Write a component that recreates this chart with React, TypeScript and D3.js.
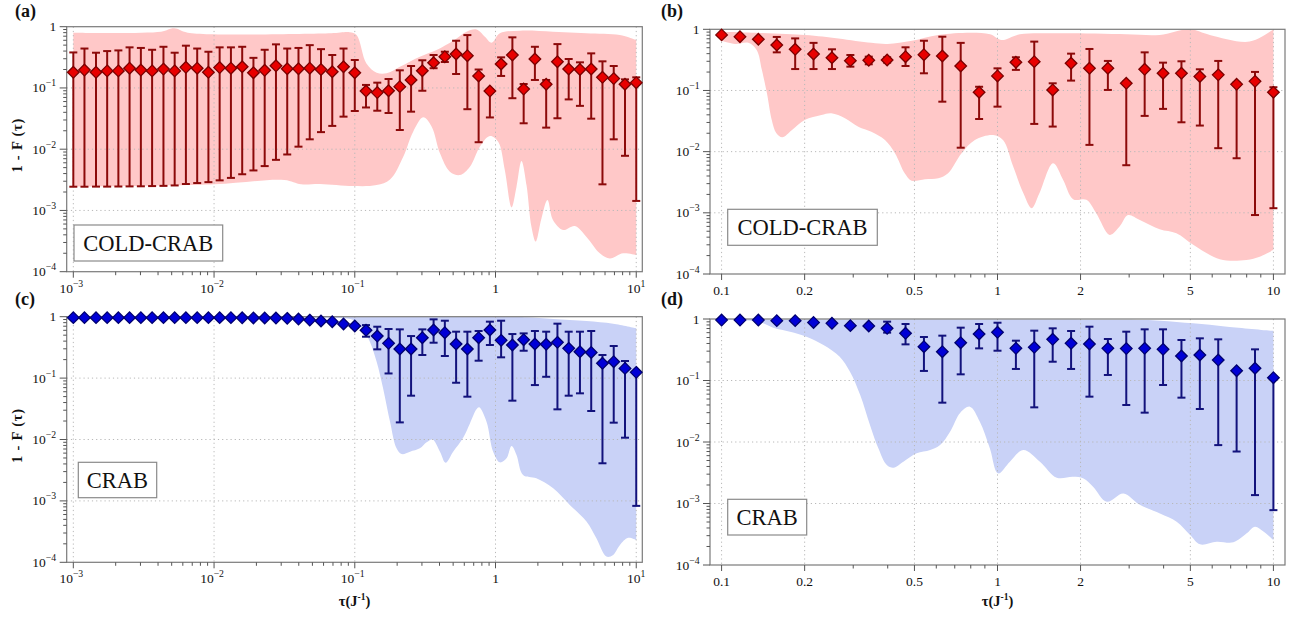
import React from 'react';
import * as d3 from 'd3';

type Pt = [number, number];

// tau grid (J^-1) for the wide panels (a), (c)
const tauWide = [
  0.001, 0.0012, 0.00145, 0.00174, 0.00209, 0.00251, 0.00302, 0.00363, 0.00437, 0.00525,
  0.00631, 0.00759, 0.00912, 0.01096, 0.01318, 0.01585, 0.01905, 0.0229, 0.02754, 0.03311,
  0.03981, 0.04786, 0.05754, 0.06918, 0.08318, 0.1, 0.1202, 0.1445, 0.1738, 0.2089,
  0.2512, 0.302, 0.3631, 0.4365, 0.5248, 0.631, 0.7586, 0.912, 1.096, 1.318,
  1.585, 1.905, 2.291, 2.754, 3.311, 3.981, 4.786, 5.754, 6.918, 8.318, 10,
];

// tau grid for the zoomed panels (b), (d)
const tauNarrow = [
  0.1, 0.1166, 0.1359, 0.1585, 0.1848, 0.2154, 0.2512, 0.2929, 0.3415, 0.3981,
  0.4642, 0.5412, 0.631, 0.7356, 0.8577, 1, 1.166, 1.359, 1.585, 1.848,
  2.154, 2.512, 2.929, 3.415, 3.981, 4.642, 5.412, 6.31, 7.356, 8.577, 10,
];

// (a) COLD-CRAB
const aVal = [
  0.18, 0.196, 0.18, 0.19, 0.19, 0.21, 0.196, 0.19, 0.203, 0.19,
  0.217, 0.21, 0.18, 0.215, 0.21, 0.222, 0.177, 0.194, 0.23, 0.206,
  0.206, 0.21, 0.2, 0.184, 0.222, 0.177, 0.089, 0.084, 0.09, 0.105,
  0.135, 0.191, 0.258, 0.324, 0.358, 0.336, 0.157, 0.089, 0.246, 0.345,
  0.096, 0.297, 0.115, 0.268, 0.204, 0.2, 0.204, 0.149, 0.142, 0.115, 0.122,
];
const aHi = [
  0.38, 0.44, 0.376, 0.4, 0.41, 0.46, 0.45, 0.42, 0.47, 0.376,
  0.49, 0.44, 0.39, 0.46, 0.46, 0.47, 0.31, 0.42, 0.515, 0.44,
  0.45, 0.5, 0.43, 0.345, 0.44, 0.286, 0.112, 0.122, 0.14, 0.194,
  0.228, 0.283, 0.345, 0.39, 0.59, 0.73, 0.2, 0.095, 0.316, 0.67,
  0.116, 0.47, 0.135, 0.52, 0.297, 0.262, 0.367, 0.272, 0.228, 0.138, 0.149,
];
const aLo = [
  0.00244, 0.00244, 0.00245, 0.00245, 0.00246, 0.00247, 0.00248, 0.0025, 0.00252, 0.00256,
  0.0027, 0.0028, 0.0029, 0.0031, 0.0034, 0.0039, 0.0045, 0.0053, 0.0067, 0.0082,
  0.011, 0.0145, 0.019, 0.024, 0.034, 0.042, 0.048, 0.0425, 0.039, 0.0206,
  0.041, 0.09, 0.21, 0.265, 0.169, 0.045, 0.013, 0.033, 0.157, 0.068,
  0.0265, 0.135, 0.0225, 0.032, 0.065, 0.051, 0.0315, 0.00267, 0.0145, 0.0078, 0.00143,
];
const aBandHi: Pt[] = [
  [0.001, 0.8], [0.0042, 0.83], [0.0052, 0.94], [0.0065, 0.8], [0.068, 0.78], [0.092, 0.81],
  [0.103, 0.73], [0.121, 0.25], [0.143, 0.177], [0.168, 0.173], [0.209, 0.222], [0.29, 0.324],
  [0.381, 0.416], [0.5, 0.59], [0.622, 0.83], [0.733, 0.9], [0.84, 0.687], [0.938, 0.548],
  [1.074, 0.78], [1.49, 0.86], [2.56, 0.83], [4.43, 0.78], [7.64, 0.73], [10, 0.605],
];
const aBandLo: Pt[] = [
  [0.001, 0.00244], [0.01, 0.00267], [0.0316, 0.00314], [0.0416, 0.00267], [0.0566, 0.0027],
  [0.0977, 0.0025], [0.143, 0.0026], [0.178, 0.0032], [0.221, 0.00755], [0.26, 0.0193],
  [0.306, 0.0331], [0.352, 0.0233], [0.403, 0.00855], [0.474, 0.0043], [0.558, 0.00378],
  [0.658, 0.00518], [0.774, 0.011], [0.912, 0.0164], [1.045, 0.0132], [1.164, 0.00457],
  [1.3, 0.00112], [1.41, 0.00244], [1.53, 0.0064], [1.66, 0.0026], [1.8, 0.000543],
  [1.93, 0.00031], [2.12, 0.00074], [2.34, 0.00148], [2.56, 0.0007], [3.02, 0.00048],
  [3.66, 0.000557], [4.43, 0.00037], [5.51, 0.0002], [6.49, 0.000165], [8.07, 0.0002], [10, 0.000187],
];

// (b) COLD-CRAB, zoom on 0.1..10
const bVal = [
  0.81, 0.757, 0.687, 0.554, 0.471, 0.395, 0.343, 0.307, 0.311, 0.315,
  0.357, 0.385, 0.366, 0.251, 0.0935, 0.173, 0.289, 0.296, 0.102, 0.278,
  0.231, 0.231, 0.131, 0.222, 0.191, 0.191, 0.169, 0.18, 0.126, 0.141, 0.0935,
];
const bHi = [
  0.81, 0.757, 0.687, 0.75, 0.71, 0.6, 0.471, 0.38, 0.357, 0.349,
  0.508, 0.65, 0.757, 0.6, 0.115, 0.23, 0.349, 0.629, 0.131, 0.4,
  0.477, 0.304, 0.14, 0.42, 0.285, 0.3, 0.222, 0.304, 0.135, 0.201, 0.113,
];
const bLo = [
  0.81, 0.757, 0.687, 0.42, 0.224, 0.224, 0.224, 0.245, 0.268, 0.285,
  0.251, 0.191, 0.0656, 0.0116, 0.0342, 0.0544, 0.217, 0.0284, 0.0257, 0.145,
  0.0129, 0.102, 0.006, 0.0384, 0.05, 0.0302, 0.0267, 0.0114, 0.0078, 0.00092, 0.00119,
];
const bBandHi: Pt[] = [
  [0.1, 0.91], [0.2, 0.81], [0.265, 0.71], [0.349, 0.6], [0.4, 0.575], [0.49, 0.65],
  [0.61, 0.81], [0.805, 0.88], [0.94, 0.83], [1.035, 0.67], [1.205, 0.83], [1.68, 0.86],
  [2.93, 0.83], [3.87, 0.81], [4.98, 1.0], [5.88, 0.81], [8.2, 0.63], [10, 1.0],
];
const bBandLo: Pt[] = [
  [0.1, 0.65], [0.112, 0.575], [0.125, 0.6], [0.134, 0.46], [0.14, 0.216], [0.146, 0.09],
  [0.152, 0.033], [0.158, 0.02], [0.166, 0.0172], [0.18, 0.0226], [0.2, 0.033], [0.23, 0.0398],
  [0.25, 0.0424], [0.28, 0.0352], [0.313, 0.0256], [0.349, 0.0212], [0.391, 0.0155], [0.425, 0.0094],
  [0.461, 0.00443], [0.488, 0.00336], [0.546, 0.00354], [0.61, 0.00367], [0.662, 0.00443],
  [0.741, 0.0094], [0.828, 0.0155], [0.964, 0.0187], [1.047, 0.0155], [1.14, 0.0057],
  [1.24, 0.0021], [1.33, 0.00119], [1.42, 0.0021], [1.59, 0.00646], [1.73, 0.00345],
  [1.88, 0.00167], [2.1, 0.00163], [2.28, 0.00098], [2.55, 0.000436], [2.77, 0.000596],
  [2.97, 0.00092], [3.28, 0.000766], [3.87, 0.00054], [4.45, 0.000464], [5.12, 0.0003],
  [6.39, 0.000175], [7.98, 0.00017], [8.92, 0.000192], [10, 0.000248],
];

// (c) CRAB
const cVal = [
  0.965, 0.965, 0.965, 0.965, 0.965, 0.965, 0.965, 0.965, 0.965, 0.965,
  0.965, 0.965, 0.965, 0.965, 0.965, 0.96, 0.955, 0.955, 0.95, 0.94,
  0.916, 0.88, 0.85, 0.83, 0.76, 0.705, 0.6, 0.484, 0.368, 0.298,
  0.298, 0.455, 0.607, 0.549, 0.359, 0.298, 0.455, 0.607, 0.412, 0.346,
  0.422, 0.359, 0.355, 0.382, 0.305, 0.269, 0.262, 0.174, 0.185, 0.144, 0.124,
];
const cHi = [
  0.965, 0.965, 0.965, 0.965, 0.965, 0.965, 0.965, 0.965, 0.965, 0.965,
  0.965, 0.965, 0.965, 0.965, 0.965, 0.96, 0.955, 0.955, 0.95, 0.94,
  0.916, 0.88, 0.85, 0.83, 0.76, 0.76, 0.73, 0.687, 0.63, 0.622,
  0.484, 0.622, 0.905, 0.86, 0.57, 0.57, 0.585, 0.83, 0.86, 0.522,
  0.535, 0.585, 0.57, 0.77, 0.57, 0.57, 0.585, 0.238, 0.333, 0.19, 0.124,
];
const cLo = [
  0.965, 0.965, 0.965, 0.965, 0.965, 0.965, 0.965, 0.965, 0.965, 0.965,
  0.965, 0.965, 0.965, 0.965, 0.965, 0.96, 0.955, 0.955, 0.95, 0.94,
  0.916, 0.88, 0.85, 0.83, 0.76, 0.66, 0.472, 0.294, 0.119, 0.019,
  0.0517, 0.238, 0.377, 0.229, 0.084, 0.0498, 0.192, 0.346, 0.218, 0.0429,
  0.279, 0.077, 0.105, 0.031, 0.0517, 0.0565, 0.0291, 0.0041, 0.0188, 0.0107, 0.00083,
];
const cBandHi: Pt[] = [
  [0.001, 1.0], [1.2, 1.0], [1.66, 0.98], [2.57, 0.92], [4.43, 0.85], [6.85, 0.77], [10, 0.65],
];
const cBandLo: Pt[] = [
  [0.001, 0.97], [0.06, 0.965], [0.0785, 0.95], [0.0977, 0.88], [0.115, 0.607], [0.128, 0.392],
  [0.143, 0.185], [0.159, 0.068], [0.178, 0.0195], [0.198, 0.00718], [0.215, 0.0058],
  [0.247, 0.00634], [0.29, 0.00718], [0.324, 0.009], [0.357, 0.01], [0.403, 0.00634],
  [0.442, 0.0042], [0.5, 0.00634], [0.589, 0.0107], [0.658, 0.0183], [0.733, 0.031],
  [0.766, 0.0334], [0.863, 0.0195], [0.962, 0.00634], [1.074, 0.00425], [1.197, 0.00493],
  [1.3, 0.00783], [1.41, 0.0056], [1.57, 0.00264], [1.95, 0.00233], [2.57, 0.0016],
  [3.37, 0.00086], [4.43, 0.00046], [5.21, 0.000246], [6.14, 0.000124], [6.85, 0.000132],
  [7.64, 0.00019], [8.75, 0.00025], [10, 0.00023],
];

// (d) CRAB, zoom on 0.1..10
const dVal = [
  0.96, 0.96, 0.96, 0.94, 0.94, 0.88, 0.85, 0.78, 0.77, 0.705,
  0.585, 0.355, 0.294, 0.412, 0.57, 0.607, 0.333, 0.346, 0.467, 0.402,
  0.392, 0.333, 0.33, 0.333, 0.321, 0.25, 0.26, 0.215, 0.144, 0.158, 0.111,
];
const dHi = [
  0.96, 0.96, 0.96, 0.94, 0.94, 0.88, 0.85, 0.78, 0.8, 0.905,
  0.83, 0.51, 0.536, 0.723, 0.83, 0.87, 0.444, 0.646, 0.705, 0.638,
  0.75, 0.473, 0.622, 0.679, 0.679, 0.456, 0.485, 0.467, 0.144, 0.321, 0.111,
];
const dLo = [
  0.96, 0.96, 0.96, 0.94, 0.94, 0.88, 0.85, 0.78, 0.74, 0.6,
  0.387, 0.143, 0.0436, 0.126, 0.333, 0.305, 0.154, 0.0366, 0.202, 0.154,
  0.0546, 0.123, 0.04, 0.03, 0.0845, 0.0526, 0.0344, 0.0089, 0.007, 0.00137, 0.00078,
];
const dBandHi: Pt[] = [
  [0.1, 0.98], [2.9, 0.97], [3.88, 0.94], [5.12, 0.85], [6.8, 0.75], [10, 0.64],
];
const dBandLo: Pt[] = [
  [0.1, 0.96], [0.136, 0.905], [0.154, 0.723], [0.177, 0.622], [0.203, 0.516], [0.234, 0.378],
  [0.268, 0.244], [0.292, 0.139], [0.318, 0.058], [0.345, 0.0189], [0.37, 0.00789],
  [0.397, 0.00423], [0.42, 0.00383], [0.456, 0.00479], [0.509, 0.00654], [0.57, 0.0074],
  [0.619, 0.0089], [0.673, 0.0147], [0.733, 0.03], [0.794, 0.0376], [0.863, 0.0214],
  [0.938, 0.00789], [1.005, 0.00309], [1.109, 0.00479], [1.24, 0.0074], [1.425, 0.00479],
  [1.64, 0.00263], [1.88, 0.00273], [2.05, 0.00256], [2.22, 0.00188], [2.49, 0.00107],
  [2.86, 0.00146], [3.28, 0.00095], [3.88, 0.00069], [4.46, 0.000507], [4.99, 0.000308],
  [5.42, 0.000217], [6.23, 0.000239], [7.16, 0.000234], [8.0, 0.000327], [8.58, 0.00042],
  [9.2, 0.00035], [10, 0.000255],
];

// tick labels
type TickLabel = { v: number; base: string; exp?: string };
const yTicks: TickLabel[] = [
  { v: 1, base: '1' },
  { v: 1e-1, base: '10', exp: '−1' },
  { v: 1e-2, base: '10', exp: '−2' },
  { v: 1e-3, base: '10', exp: '−3' },
  { v: 1e-4, base: '10', exp: '−4' },
];
const xTicksWide: TickLabel[] = [
  { v: 1e-3, base: '10', exp: '−3' },
  { v: 1e-2, base: '10', exp: '−2' },
  { v: 1e-1, base: '10', exp: '−1' },
  { v: 1, base: '1' },
  { v: 10, base: '10', exp: '1' },
];
const xTicksNarrow: TickLabel[] = [
  { v: 0.1, base: '0.1' },
  { v: 0.2, base: '0.2' },
  { v: 0.5, base: '0.5' },
  { v: 1, base: '1' },
  { v: 2, base: '2' },
  { v: 5, base: '5' },
  { v: 10, base: '10' },
];
const xMinorNarrow = [0.3, 0.4, 0.6, 0.7, 0.8, 0.9, 3, 4, 6, 7, 8, 9];

const themes = {
  red: { band: '#ffc8c8', bar: '#8c0a0a', fill: '#e80000', stroke: '#7a0000' },
  blue: { band: '#c9d2f7', bar: '#12127c', fill: '#0000d6', stroke: '#00006e' },
};

interface PanelSpec {
  id: string;
  tag: string;
  name: string;
  tau: number[];
  val: number[];
  lo: number[];
  hi: number[];
  bandHi: Pt[];
  bandLo: Pt[];
  wide: boolean;
  box: { x0: number; x1: number; y0: number; y1: number };
  legend: { x: number; y: number; w: number; h: number };
  theme: 'red' | 'blue';
  yTitle: boolean;
  xTitle: boolean;
  tagPos: [number, number];
}

const panels: PanelSpec[] = [
  {
    id: 'a', tag: '(a)', name: 'COLD-CRAB', tau: tauWide, val: aVal, lo: aLo, hi: aHi,
    bandHi: aBandHi, bandLo: aBandLo, wide: true,
    box: { x0: 66.7, x1: 642.3, y0: 26.7, y1: 271.7 },
    legend: { x: 74, y: 225, w: 148.7, h: 36 }, theme: 'red', yTitle: true, xTitle: false,
    tagPos: [15, 17],
  },
  {
    id: 'b', tag: '(b)', name: 'COLD-CRAB', tau: tauNarrow, val: bVal, lo: bLo, hi: bHi,
    bandHi: bBandHi, bandLo: bBandLo, wide: false,
    box: { x0: 710, x1: 1285, y0: 29.3, y1: 274 },
    legend: { x: 727.7, y: 209.3, w: 149.6, h: 36 }, theme: 'red', yTitle: false, xTitle: false,
    tagPos: [661, 17],
  },
  {
    id: 'c', tag: '(c)', name: 'CRAB', tau: tauWide, val: cVal, lo: cLo, hi: cHi,
    bandHi: cBandHi, bandLo: cBandLo, wide: true,
    box: { x0: 66.7, x1: 642.3, y0: 316.7, y1: 562.3 },
    legend: { x: 78.3, y: 462.3, w: 78.4, h: 35.4 }, theme: 'blue', yTitle: true, xTitle: true,
    tagPos: [15, 305],
  },
  {
    id: 'd', tag: '(d)', name: 'CRAB', tau: tauNarrow, val: dVal, lo: dLo, hi: dHi,
    bandHi: dBandHi, bandLo: dBandLo, wide: false,
    box: { x0: 710, x1: 1285, y0: 319, y1: 565 },
    legend: { x: 727.7, y: 499.3, w: 79, h: 35.7 }, theme: 'blue', yTitle: false, xTitle: true,
    tagPos: [661, 305],
  },
];

const SERIF = '"Liberation Serif", "Times New Roman", serif';

function Label({ t, x, y, anchor, size }: { t: TickLabel; x: number; y: number; anchor: 'middle' | 'end'; size: number }) {
  return (
    <text x={x} y={y} textAnchor={anchor} fontFamily={SERIF} fontSize={size} fill="#111">
      {t.base}
      {t.exp && (
        <tspan dy={-6} fontSize={size * 0.72}>
          {t.exp}
        </tspan>
      )}
    </text>
  );
}

function Panel({ p }: { p: PanelSpec }) {
  const { x0, x1, y0, y1 } = p.box;
  const th = themes[p.theme];
  const xDomain = p.wide ? [10 ** -3.047, 10 ** 1.043] : [10 ** -1.042, 10 ** 1.042];
  const x = d3.scaleLog().domain(xDomain).range([x0, x1]);
  const y = d3.scaleLog().domain([1e-4, 1]).range([y1, y0]);

  const xMajor = p.wide ? xTicksWide : xTicksNarrow;
  const xMinor: number[] = [];
  if (p.wide) {
    for (let e = -4; e <= 1; e++) {
      for (let m = 2; m <= 9; m++) {
        const v = m * 10 ** e;
        if (v > xDomain[0] * 1.01 && v < xDomain[1] * 0.99) xMinor.push(v);
      }
    }
  } else {
    xMinor.push(...xMinorNarrow);
  }
  const yMinor: number[] = [];
  for (let e = -4; e < 0; e++) {
    for (let m = 2; m <= 9; m++) yMinor.push(m * 10 ** e);
  }

  const line = d3
    .line<Pt>()
    .x((d) => x(d[0]))
    .y((d) => y(d[1]))
    .curve(d3.curveCatmullRom.alpha(0.5));
  const up = line(p.bandHi)!;
  const low = line([...p.bandLo].reverse())!;
  const bandPath = up + 'L' + low.slice(1) + 'Z';

  const r = 5.8;
  const cap = 4;
  const clipId = `clip-${p.id}`;

  return (
    <g>
      <defs>
        <clipPath id={clipId}>
          <rect x={x0} y={y0} width={x1 - x0} height={y1 - y0} />
        </clipPath>
      </defs>
      <path d={bandPath} fill={th.band} clipPath={`url(#${clipId})`} />

      {/* grid */}
      <g stroke="#b8b8b8" strokeWidth={1} strokeDasharray="1.2,3">
        {xMajor.map((t) => (
          <line key={'gx' + t.v} x1={x(t.v)} x2={x(t.v)} y1={y0} y2={y1} />
        ))}
        {yTicks.slice(1, 4).map((t) => (
          <line key={'gy' + t.v} x1={x0} x2={x1} y1={y(t.v)} y2={y(t.v)} />
        ))}
      </g>

      {/* frame */}
      <rect x={x0} y={y0} width={x1 - x0} height={y1 - y0} fill="none" stroke="#7a7a7a" strokeWidth={1.2} />

      {/* ticks */}
      <g stroke="#555" strokeWidth={1}>
        {yTicks.map((t) => (
          <line key={'ty' + t.v} x1={x0 - 7} x2={x0} y1={y(t.v)} y2={y(t.v)} />
        ))}
        {yMinor.map((v) => (
          <line key={'tmy' + v} x1={x0 - 3.5} x2={x0} y1={y(v)} y2={y(v)} />
        ))}
        {xMajor.map((t) => (
          <line key={'tx' + t.v} x1={x(t.v)} x2={x(t.v)} y1={y1} y2={y1 + 6} />
        ))}
        {xMinor.map((v) => (
          <line key={'tmx' + v} x1={x(v)} x2={x(v)} y1={y1} y2={y1 + 3.5} />
        ))}
      </g>

      {/* tick labels */}
      {yTicks.map((t) => (
        <Label key={'ly' + t.v} t={t} x={x0 - 10.5} y={y(t.v) + 4.5} anchor="end" size={13.5} />
      ))}
      {xMajor.map((t) => (
        <Label key={'lx' + t.v} t={t} x={x(t.v) - (t.exp && t.exp.length > 1 ? 2 : 0)} y={y1 + 21} anchor="middle" size={13.5} />
      ))}

      {/* error bars */}
      <g stroke={th.bar} strokeWidth={2}>
        {p.tau.map((tv, i) => {
          const cx = x(tv);
          const yt = y(p.hi[i]);
          const yb = y(p.lo[i]);
          return (
            <g key={'e' + i}>
              <line x1={cx} x2={cx} y1={yt} y2={yb} />
              <line x1={cx - cap} x2={cx + cap} y1={yt} y2={yt} />
              <line x1={cx - cap} x2={cx + cap} y1={yb} y2={yb} />
            </g>
          );
        })}
      </g>

      {/* markers */}
      <g fill={th.fill} stroke={th.stroke} strokeWidth={1.3}>
        {p.tau.map((tv, i) => {
          const cx = x(tv);
          const cy = y(p.val[i]);
          return <path key={'m' + i} d={`M${cx},${cy - r}L${cx + r},${cy}L${cx},${cy + r}L${cx - r},${cy}Z`} />;
        })}
      </g>

      {/* legend box */}
      <rect x={p.legend.x} y={p.legend.y} width={p.legend.w} height={p.legend.h} fill="#fff" stroke="#8a8a8a" strokeWidth={1.2} />
      <text
        x={p.legend.x + p.legend.w / 2}
        y={p.legend.y + p.legend.h / 2 + 7.8}
        textAnchor="middle"
        fontFamily={SERIF}
        fontSize={22.5}
        fill="#111"
      >
        {p.name}
      </text>

      {/* panel tag */}
      <text x={p.tagPos[0]} y={p.tagPos[1]} fontFamily={SERIF} fontWeight="bold" fontSize={18} fill="#111">
        {p.tag}
      </text>

      {p.yTitle && (
        <text
          transform={`translate(22,${(y0 + y1) / 2 - 4}) rotate(-90)`}
          textAnchor="middle"
          fontFamily={SERIF}
          fontWeight="bold"
          fontSize={14.5}
          letterSpacing={0.8}
          fill="#111"
        >
          1 - F (τ)
        </text>
      )}
      {p.xTitle && (
        <text x={(x0 + x1) / 2} y={606} textAnchor="middle" fontFamily={SERIF} fontWeight="bold" fontSize={14.5} fill="#111">
          τ(J
          <tspan dy={-6} fontSize={9.5}>
            -1
          </tspan>
          <tspan dy={6}>)</tspan>
        </text>
      )}
    </g>
  );
}

export default function App() {
  return (
    <svg
      width={1304}
      height={621}
      viewBox="0 0 1304 621"
      style={{ position: 'absolute', left: 0, top: 0, background: '#fff' }}
    >
      <rect width={1304} height={621} fill="#fff" />
      {panels.map((p) => (
        <Panel key={p.id} p={p} />
      ))}
    </svg>
  );
}
